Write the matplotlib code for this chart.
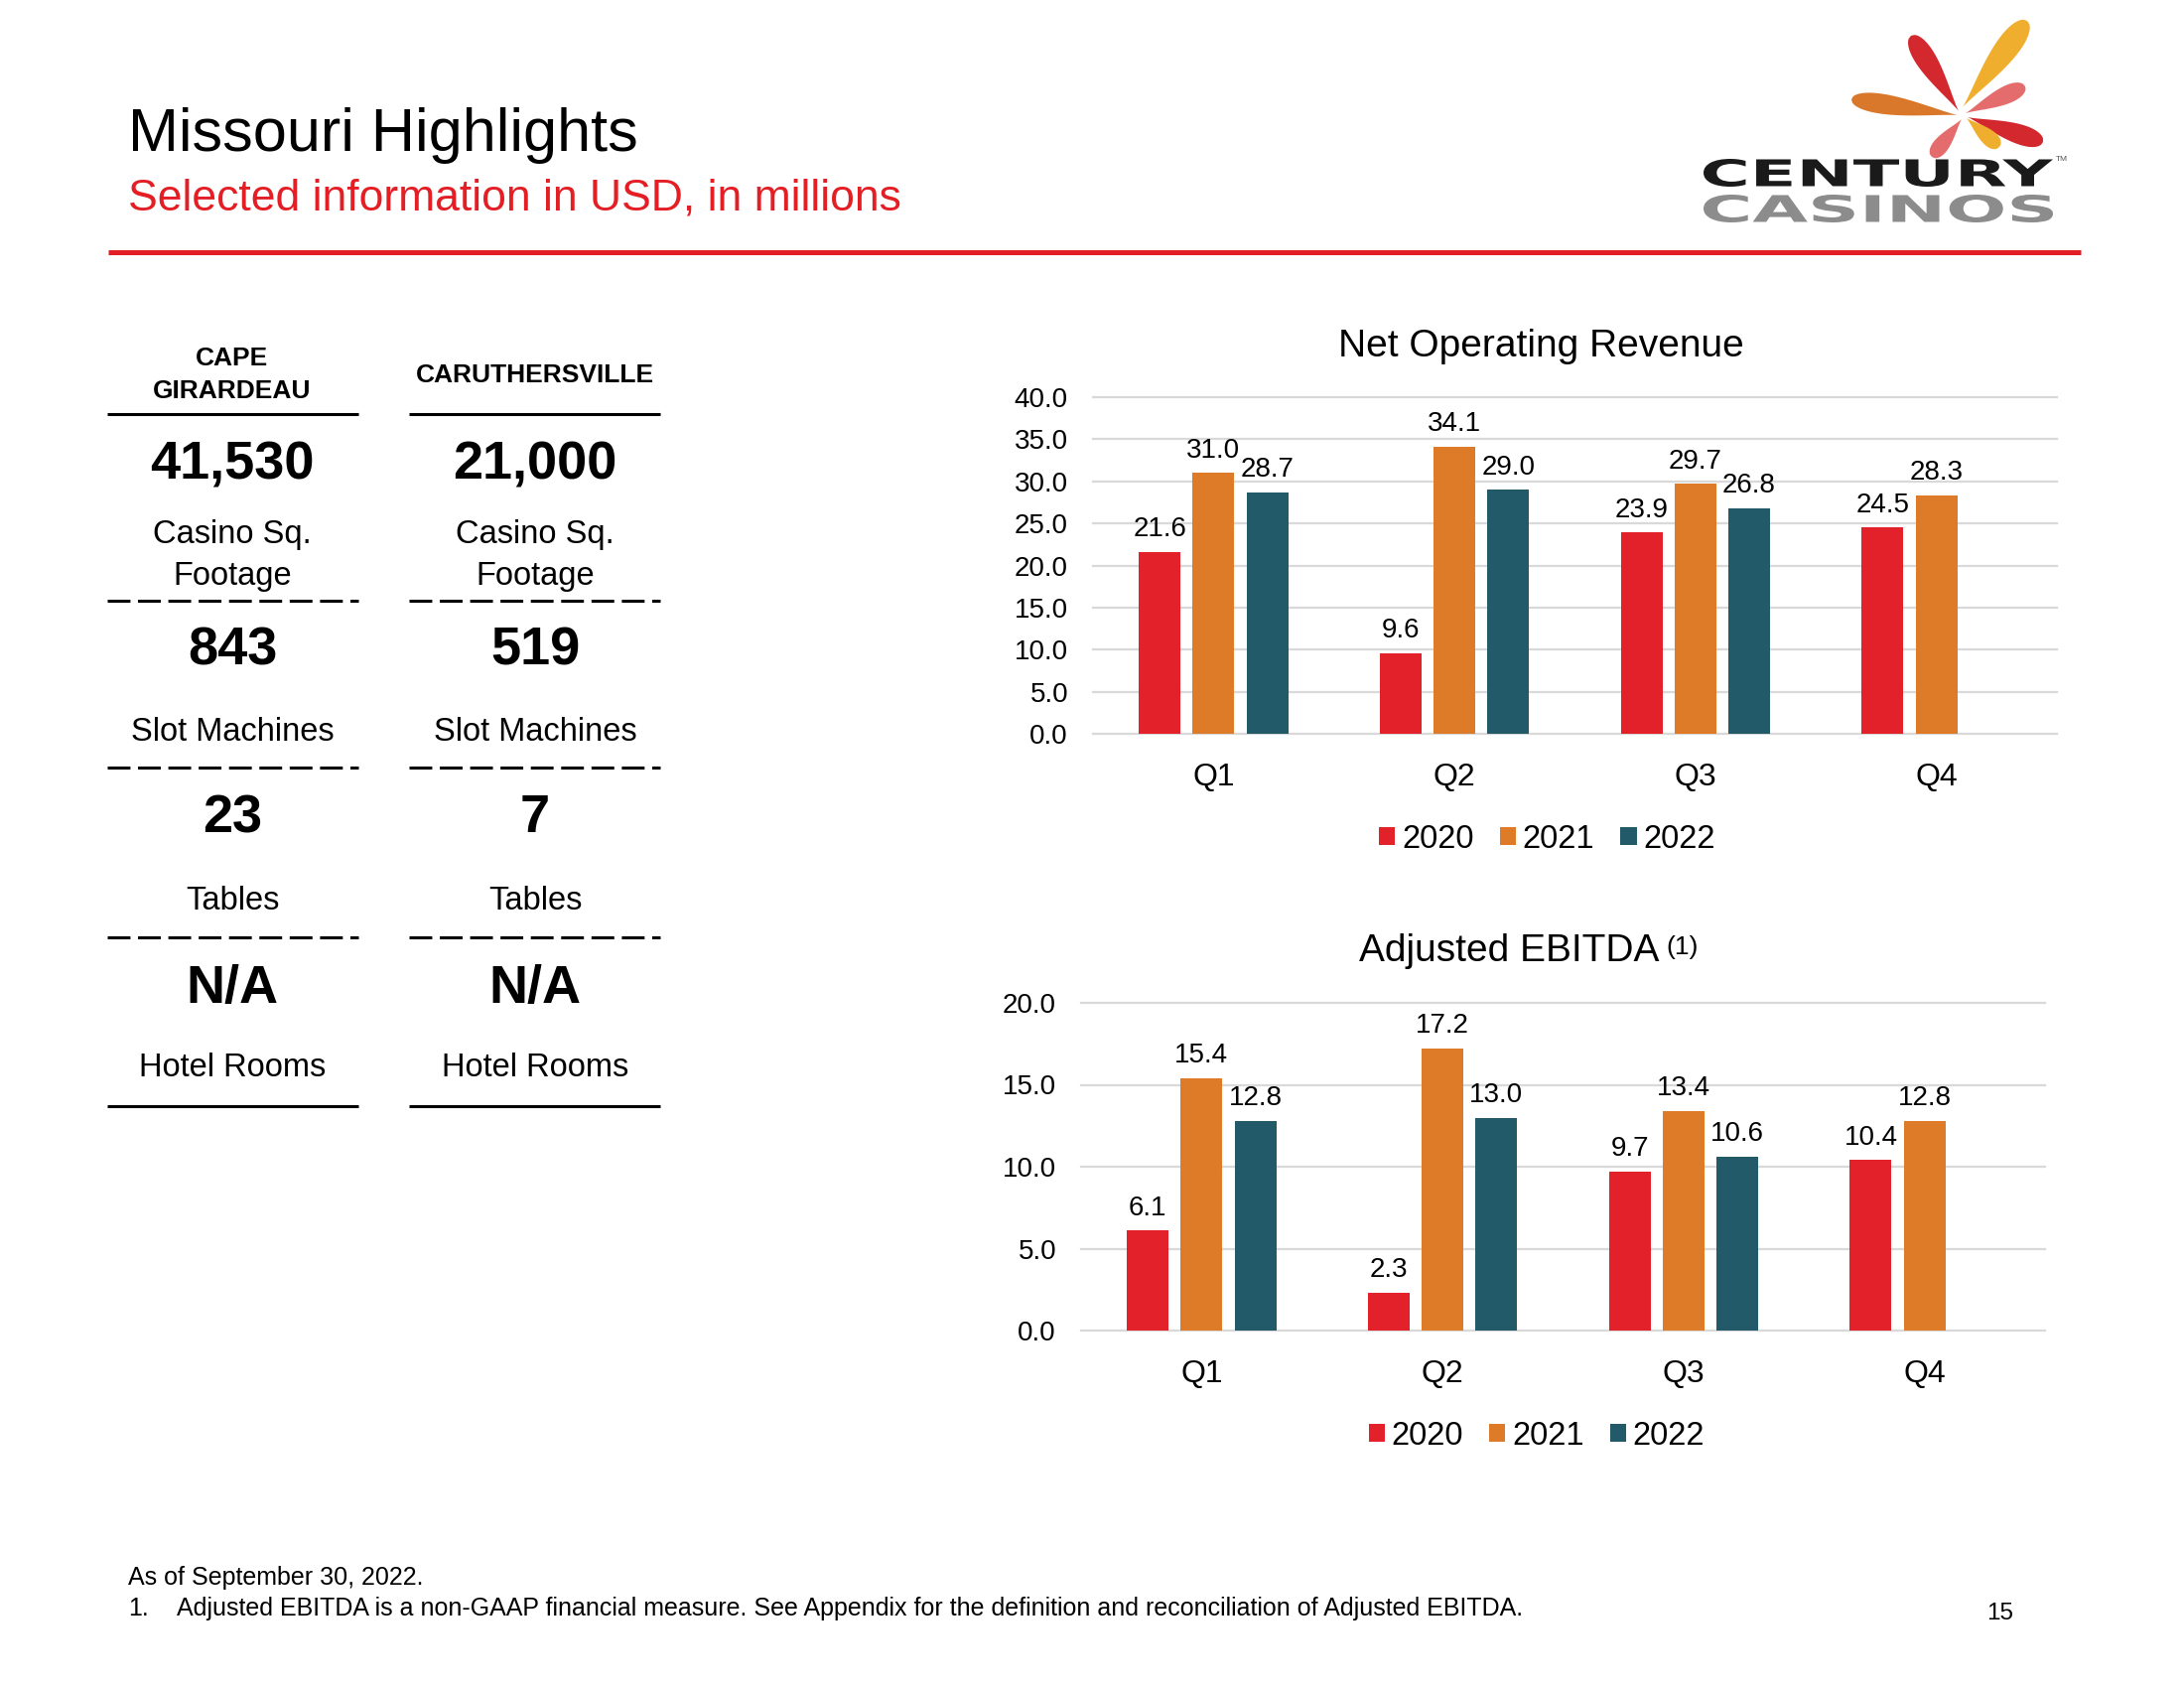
import numpy as np
import matplotlib
matplotlib.use("Agg")
import matplotlib.pyplot as plt
from matplotlib.lines import Line2D
from matplotlib.patches import Polygon, PathPatch
from matplotlib.textpath import TextPath
from matplotlib.font_manager import FontProperties
from matplotlib.transforms import Affine2D

plt.rcParams['font.family'] = ['Liberation Sans', 'DejaVu Sans']
plt.rcParams['lines.scale_dashes'] = False

# ---------------- data ----------------
quarters = ["Q1", "Q2", "Q3", "Q4"]
years = ["2020", "2021", "2022"]
rev_2020 = [21.6, 9.6, 23.9, 24.5]
rev_2021 = [31.0, 34.1, 29.7, 28.3]
rev_2022 = [28.7, 29.0, 26.8, np.nan]
ebitda_2020 = [6.1, 2.3, 9.7, 10.4]
ebitda_2021 = [15.4, 17.2, 13.4, 12.8]
ebitda_2022 = [12.8, 13.0, 10.6, np.nan]

properties = ["CAPE\nGIRARDEAU", "CARUTHERSVILLE"]
sq_footage = ["41,530", "21,000"]
slot_machines = ["843", "519"]
tables = ["23", "7"]
hotel_rooms = ["N/A", "N/A"]

RED = "#E2212B"
ORANGE = "#DD7B29"
TEAL = "#235A69"
GRID = "#D9D9D9"
colors = [RED, ORANGE, TEAL]

fig = plt.figure(figsize=(22, 17), dpi=100)

# overlay axes in pixel coordinates (y downward) for slide decoration
ov = fig.add_axes([0, 0, 1, 1])
ov.set_xlim(0, 2200)
ov.set_ylim(1700, 0)
ov.axis('off')

# header
ov.text(129, 136, "Missouri Highlights", fontsize=44, va='center', ha='left', color='black')
ov.text(129, 200, "Selected information in USD, in millions", fontsize=32, va='center', ha='left', color="#E31E24")
ov.add_line(Line2D([109, 2096], [254, 254], color="#E31E24", lw=3.6, solid_capstyle='butt'))

# logo petals
def petal(base, tip, width, color):
    base = np.array(base, float); tip = np.array(tip, float)
    d = tip - base
    L = np.hypot(*d)
    u = d / L
    n = np.array([-u[1], u[0]])
    t = np.linspace(0, 1, 80)
    w = t ** 1.3 * np.sqrt(np.clip(1 - t, 0, 1))
    w = w / w.max() * width / 2
    left = base + np.outer(t, d) + np.outer(w, n)
    right = base + np.outer(t, d) - np.outer(w, n)
    pts = np.vstack([left, right[::-1]])
    ov.add_patch(Polygon(pts, closed=True, color=color, lw=0))

petal((1973, 112), (1925, 36), 21, "#D3282E")
petal((1977, 108), (2042, 21), 24, "#F0AE2E")
petal((1972, 116), (1865, 100), 20, "#D9772A")
petal((1980, 114), (2040, 87), 18, "#E56C6C")
petal((1982, 118), (2058, 143), 20, "#D3282E")
petal((1981, 119), (2014, 148), 16, "#F0AE2E")
petal((1976, 120), (1946, 158), 16, "#E56C6C")

def fit_text(s, x0, x1, ytop, ybot, color):
    fp = FontProperties(family='DejaVu Sans', weight='bold')
    tp = TextPath((0, 0), s, size=100, prop=fp)
    ext = tp.get_extents()
    sx = (x1 - x0) / ext.width
    sy = (ybot - ytop) / ext.height
    tr = Affine2D().translate(-ext.x0, -ext.y0).scale(sx, -sy).translate(x0, ybot)
    ov.add_patch(PathPatch(tr.transform_path(tp), color=color, lw=0))

fit_text("CENTURY", 1716, 2068, 160, 188, "#1A1A1A")
fit_text("CASINOS", 1716, 2068, 196, 224, "#8C8C8C")
ov.text(2071, 160, "TM", fontsize=6, color="#555555", va='center', ha='left')

# ---------------- property table ----------------
col_x = [234, 539]
col_span = [(108, 361), (412, 665)]
DASH = (16.5, 5.5)
for i in range(2):
    cx = col_x[i]
    x0, x1 = col_span[i]
    if "\n" in properties[i]:
        a, b = properties[i].split("\n")
        ov.text(cx, 361, a, fontsize=19, weight='bold', ha='center', va='center')
        ov.text(cx, 394, b, fontsize=19, weight='bold', ha='center', va='center')
    else:
        ov.text(cx, 378, properties[i], fontsize=19, weight='bold', ha='center', va='center')
    ov.add_line(Line2D([x0, x1], [417, 417], color='black', lw=2.2, solid_capstyle='butt'))
    ov.text(cx, 468, sq_footage[i], fontsize=39, weight='bold', ha='center', va='center')
    ov.text(cx, 539, "Casino Sq.", fontsize=23.5, ha='center', va='center')
    ov.text(cx, 580, "Footage", fontsize=23.5, ha='center', va='center')
    ov.add_line(Line2D([x0, x1], [605, 605], color='black', lw=2.2, dashes=DASH, dash_capstyle='butt'))
    ov.text(cx, 655, slot_machines[i], fontsize=39, weight='bold', ha='center', va='center')
    ov.text(cx, 737, "Slot Machines", fontsize=23.5, ha='center', va='center')
    ov.add_line(Line2D([x0, x1], [773, 773], color='black', lw=2.2, dashes=DASH, dash_capstyle='butt'))
    ov.text(cx, 824, tables[i], fontsize=39, weight='bold', ha='center', va='center')
    ov.text(cx, 907, "Tables", fontsize=23.5, ha='center', va='center')
    ov.add_line(Line2D([x0, x1], [944, 944], color='black', lw=2.2, dashes=DASH, dash_capstyle='butt'))
    ov.text(cx, 996, hotel_rooms[i], fontsize=39, weight='bold', ha='center', va='center')
    ov.text(cx, 1076, "Hotel Rooms", fontsize=23.5, ha='center', va='center')
    ov.add_line(Line2D([x0, x1], [1114, 1114], color='black', lw=2.2, solid_capstyle='butt'))

# footer
ov.text(129, 1589, "As of September 30, 2022.", fontsize=18, ha='left', va='center')
ov.text(129, 1620, "1.", fontsize=18, ha='left', va='center')
ov.text(178, 1620, "Adjusted EBITDA is a non-GAAP financial measure. See Appendix for the definition and reconciliation of Adjusted EBITDA.",
        fontsize=18, ha='left', va='center')
ov.text(2015, 1625, "15", fontsize=17.5, ha='center', va='center')

# ---------------- charts ----------------
def bar_chart(ax, series, ymax, legend_xy):
    x = np.arange(len(quarters))
    handles = []
    for i, (vals, color) in enumerate(zip(series, colors)):
        vals = np.array(vals, float)
        pos = x + (i - 1) * 0.223
        bars = ax.bar(pos, vals, width=0.173, color=color, zorder=3, label=years[i])
        labels = ["" if np.isnan(v) else f"{v:.1f}" for v in vals]
        ax.bar_label(bars, labels=labels, padding=7, fontsize=20)
        handles.append(bars)
    ax.set_xlim(-0.5, len(quarters) - 0.5)
    ax.set_ylim(0, ymax)
    ax.set_yticks(np.arange(0, ymax + 0.01, 5))
    ax.yaxis.set_major_formatter(matplotlib.ticker.FormatStrFormatter('%.1f'))
    ax.set_xticks(x)
    ax.set_xticklabels(quarters)
    ax.yaxis.grid(True, color=GRID, lw=1.6, zorder=0)
    ax.set_axisbelow(True)
    for s in ax.spines.values():
        s.set_visible(False)
    ax.tick_params(axis='y', length=0, pad=18, labelsize=20)
    ax.tick_params(axis='x', length=0, pad=21, labelsize=23)
    for gl in ax.get_ygridlines():
        gl.set_clip_on(False)
    ax.legend(handles=handles, loc='center', bbox_to_anchor=legend_xy, ncol=3, frameon=False,
              fontsize=23.5, handlelength=0.5, handleheight=0.5, handletextpad=0.2,
              columnspacing=0.8, borderpad=0)

ax1 = fig.add_axes([1101 / 2200, 1 - 739 / 1700, 971 / 2200, 339 / 1700])
bar_chart(ax1, [rev_2020, rev_2021, rev_2022], 40, (0.471, -0.313))
ax1.text(0.465, 1.151, "Net Operating Revenue", transform=ax1.transAxes, fontsize=28,
         ha='center', va='center')

ax2 = fig.add_axes([1089 / 2200, 1 - 1340 / 1700, 971 / 2200, 330 / 1700])
bar_chart(ax2, [ebitda_2020, ebitda_2021, ebitda_2022], 20, (0.4725, -0.322))
t2 = ax2.text(0.444, 1.158, "Adjusted EBITDA", transform=ax2.transAxes, fontsize=28,
              ha='center', va='center')
ax2.annotate("(1)", xy=(1.0, 0.95), xycoords=t2, xytext=(5, 0), textcoords='offset points',
             fontsize=19, ha='left', va='top')

fig.savefig("out.png", dpi=100, facecolor='white')
